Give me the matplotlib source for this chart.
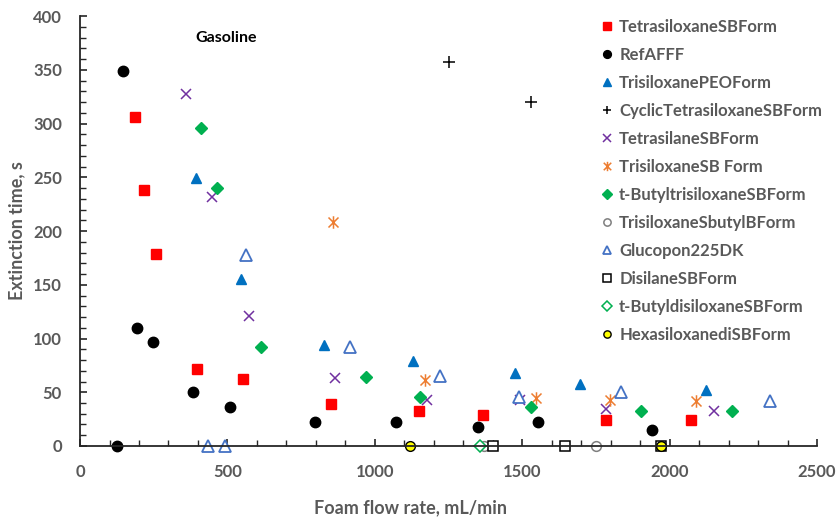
import matplotlib
matplotlib.use("Agg")
import matplotlib.pyplot as plt
from matplotlib.path import Path
from matplotlib.ticker import MultipleLocator

plt.rcParams['font.family'] = ['Lato', 'DejaVu Sans']

# Foam flow rate (mL/min) and extinction time (s) for each formulation
tetrasiloxane_x = [188, 217, 259, 397, 552, 850, 1150, 1367, 1784, 2074]
tetrasiloxane_y = [306, 238, 179, 72, 62, 39, 33, 29, 24, 24]

refafff_x = [126, 147, 192, 247, 383, 508, 798, 1072, 1349, 1554, 1941]
refafff_y = [0, 349, 110, 97, 50.5, 36, 22, 22, 18, 22, 15]

trisiloxane_peo_x = [393, 547, 829, 1129, 1474, 1697, 2122]
trisiloxane_peo_y = [249, 155, 94, 79, 68, 58, 52]

cyclic_x = [1251, 1529]
cyclic_y = [357, 320]

tetrasilane_x = [361, 446, 572, 865, 1177, 1494, 1784, 2150]
tetrasilane_y = [327, 232, 121, 63, 43, 43, 34, 33]

trisiloxane_sb_x = [859, 1171, 1547, 1798, 2091]
trisiloxane_sb_y = [208, 61, 45, 43, 42]

tbutyltri_x = [409, 464, 614, 969, 1152, 1531, 1904, 2213]
tbutyltri_y = [296, 240, 92, 64, 46, 36, 33, 33]

sbutyl_x = [1369, 1750]
sbutyl_y = [0, 0]

glucopon_x = [434, 493, 563, 916, 1222, 1488, 1835, 2339]
glucopon_y = [0, 0, 178, 92, 65, 46, 50, 42]

disilane_x = [1401, 1644, 1970]
disilane_y = [0, 0, 0]

tbutyldi_x = [1356]
tbutyldi_y = [0]

hexasiloxane_x = [1120, 1970]
hexasiloxane_y = [0, 0]

# Excel-style star: an "x" crossed by a vertical bar
star = Path(
    [(-1, -1), (1, 1), (-1, 1), (1, -1), (0, -1.25), (0, 1.25)],
    [Path.MOVETO, Path.LINETO, Path.MOVETO, Path.LINETO, Path.MOVETO, Path.LINETO],
)

series = [
    ("TetrasiloxaneSBForm", tetrasiloxane_x, tetrasiloxane_y,
     dict(marker='s', color='#FF0000', ms=7.5, mec='#FF0000')),
    ("RefAFFF", refafff_x, refafff_y,
     dict(marker='o', color='black', ms=7.5)),
    ("TrisiloxanePEOForm", trisiloxane_peo_x, trisiloxane_peo_y,
     dict(marker='^', color='#0070C0', ms=7.5)),
    ("CyclicTetrasiloxaneSBForm", cyclic_x, cyclic_y,
     dict(marker='+', color='black', ms=8, mew=1.1)),
    ("TetrasilaneSBForm", tetrasilane_x, tetrasilane_y,
     dict(marker='x', color='#7030A0', ms=7.5, mew=1.1)),
    ("TrisiloxaneSB Form", trisiloxane_sb_x, trisiloxane_sb_y,
     dict(marker=star, color='#ED7D31', ms=9, mew=1.1)),
    ("t-ButyltrisiloxaneSBForm", tbutyltri_x, tbutyltri_y,
     dict(marker='D', color='#00B050', ms=6.5)),
    ("TrisiloxaneSbutylBForm", sbutyl_x, sbutyl_y,
     dict(marker='o', mfc='white', mec='#7F7F7F', ms=7, mew=1.1, color='#7F7F7F')),
    ("Glucopon225DK", glucopon_x, glucopon_y,
     dict(marker='^', mfc='white', mec='#4472C4', ms=8, mew=1.3, color='#4472C4')),
    ("DisilaneSBForm", disilane_x, disilane_y,
     dict(marker='s', mfc='white', mec='black', ms=7, mew=1.1, color='black')),
    ("t-ButyldisiloxaneSBForm", tbutyldi_x, tbutyldi_y,
     dict(marker='D', mfc='white', mec='#00B050', ms=6.5, mew=1.1, color='#00B050')),
    ("HexasiloxanediSBForm", hexasiloxane_x, hexasiloxane_y,
     dict(marker='o', mfc='#FFFF00', mec='black', ms=7, mew=1.0, color='black')),
]

fig = plt.figure(figsize=(8.38, 5.22), dpi=100)
ax = fig.add_axes([0.0955, 0.1456, 0.8795, 0.8237])

for label, xs, ys, style in series:
    ax.plot(xs, ys, linestyle='none', label=label, clip_on=False, **style)

ax.set_xlim(0, 2500)
ax.set_ylim(0, 400)
ax.xaxis.set_major_locator(MultipleLocator(500))
ax.xaxis.set_minor_locator(MultipleLocator(100))
ax.yaxis.set_major_locator(MultipleLocator(50))
ax.yaxis.set_minor_locator(MultipleLocator(10))

gray = '#595959'
ax.tick_params(axis='both', which='both', direction='in', color='#262626',
               labelcolor=gray, labelsize=12)
ax.tick_params(axis='both', which='major', length=5, width=1.2)
ax.tick_params(axis='both', which='minor', length=4, width=1.0)
ax.tick_params(axis='x', which='major', pad=13)
ax.tick_params(axis='y', which='major', pad=13)
for lab in ax.get_xticklabels() + ax.get_yticklabels():
    lab.set_fontweight('bold')

for side in ('top', 'right'):
    ax.spines[side].set_visible(False)
for side in ('left', 'bottom'):
    ax.spines[side].set_color('#262626')
    ax.spines[side].set_linewidth(1.3)

ax.set_xlabel("Foam flow rate, mL/min", fontsize=13, fontweight='bold', color=gray)
ax.xaxis.set_label_coords(0.448, -0.125)
ax.set_ylabel("Extinction time, s", fontsize=13, fontweight='bold', color=gray)
ax.yaxis.set_label_coords(-0.075, 0.502)

ax.text(0.198, 0.949, "Gasoline", transform=ax.transAxes, ha='center', va='center',
        fontsize=11.5, fontweight='bold', color='black')

leg = fig.legend(loc='upper left', bbox_to_anchor=(0.711, 0.976), frameon=False,
                 markerscale=0.75, handlelength=0.6, handletextpad=0.4,
                 labelspacing=0.72, borderaxespad=0,
                 prop={'size': 12, 'weight': 'bold'})
for t in leg.get_texts():
    t.set_color(gray)

fig.savefig("out.png", dpi=100)
